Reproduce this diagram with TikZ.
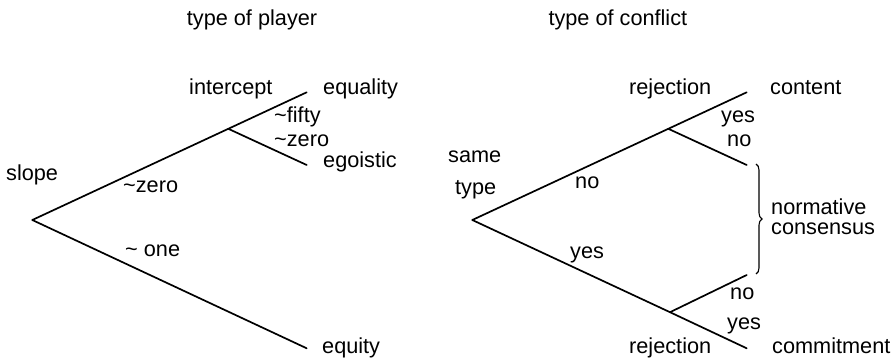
\documentclass[tikz,border=0pt]{standalone}
\usepackage{fontspec}
\setmainfont{Liberation Sans}
\usetikzlibrary{decorations.pathreplacing}
\begin{document}
\begin{tikzpicture}[x=1pt,y=-1pt,
  lbl/.style={anchor=base west,inner sep=0pt,font=\fontsize{21.7}{26}\selectfont},
  branch/.style={line width=1.7pt,line cap=round},
  bracestyle/.style={line width=1.1pt,decorate,decoration={brace,amplitude=6pt}}]
\useasboundingbox (0,0) rectangle (894,363);
% titles
\node[lbl] (t1) at (186.7,26) {type of player};
\node[lbl] (t2) at (548.3,26) {type of conflict};
% left tree
\coordinate (L0) at (32.3,220);
\coordinate (LA) at (306.7,92.3);
\coordinate (LB) at (228.3,128.8);
\coordinate (LE) at (306.7,165);
\coordinate (LQ) at (306.7,348.3);
\draw[branch] (L0) -- (LB) -- (LA);
\draw[branch] (LB) -- (LE);
\draw[branch] (L0) -- (LQ);
\node[lbl] (slope) at (6,180.7) {slope};
\node[lbl] (intercept) at (189,95) {intercept};
\node[lbl] (equality) at (323,95) {equality};
\node[lbl] (fifty) at (274,123) {\textasciitilde fifty};
\node[lbl] (zeroA) at (274,146.7) {\textasciitilde zero};
\node[lbl] (egoistic) at (323,168) {egoistic};
\node[lbl] (zeroB) at (123,193) {\textasciitilde zero};
\node[lbl] (one) at (125,257) {\textasciitilde\ one};
\node[lbl] (equity) at (322,353) {equity};
% right tree
\coordinate (R0) at (472.3,220);
\coordinate (RA) at (746.7,92.3);
\coordinate (RB) at (668.3,128.8);
\coordinate (RN) at (746.7,165);
\coordinate (RQ) at (746.7,348.3);
\coordinate (RC) at (670,312.2);
\coordinate (RM) at (746.7,275);
\draw[branch] (R0) -- (RB) -- (RA);
\draw[branch] (RB) -- (RN);
\draw[branch] (R0) -- (RC) -- (RQ);
\draw[branch] (RC) -- (RM);
\coordinate (BT) at (756,164);
\coordinate (BB) at (756,274);
\draw[bracestyle] (BT) -- (BB);
\node[lbl] (same) at (448,163) {same};
\node[lbl] (type) at (455,195) {type};
\node[lbl] (noA) at (575,188.3) {no};
\node[lbl] (yesA) at (570,259) {yes};
\node[lbl] (rej1) at (629,95) {rejection};
\node[lbl] (content) at (770,95) {content};
\node[lbl] (yesB) at (721,122.7) {yes};
\node[lbl] (noB) at (727,147) {no};
\node[lbl] (norm) at (771,215) {normative};
\node[lbl] (cons) at (771,235) {consensus};
\node[lbl] (noC) at (730,299) {no};
\node[lbl] (yesC) at (727,330) {yes};
\node[lbl] (rej2) at (629,353) {rejection};
\node[lbl] (commit) at (772,353) {commitment};
\end{tikzpicture}
\end{document}
